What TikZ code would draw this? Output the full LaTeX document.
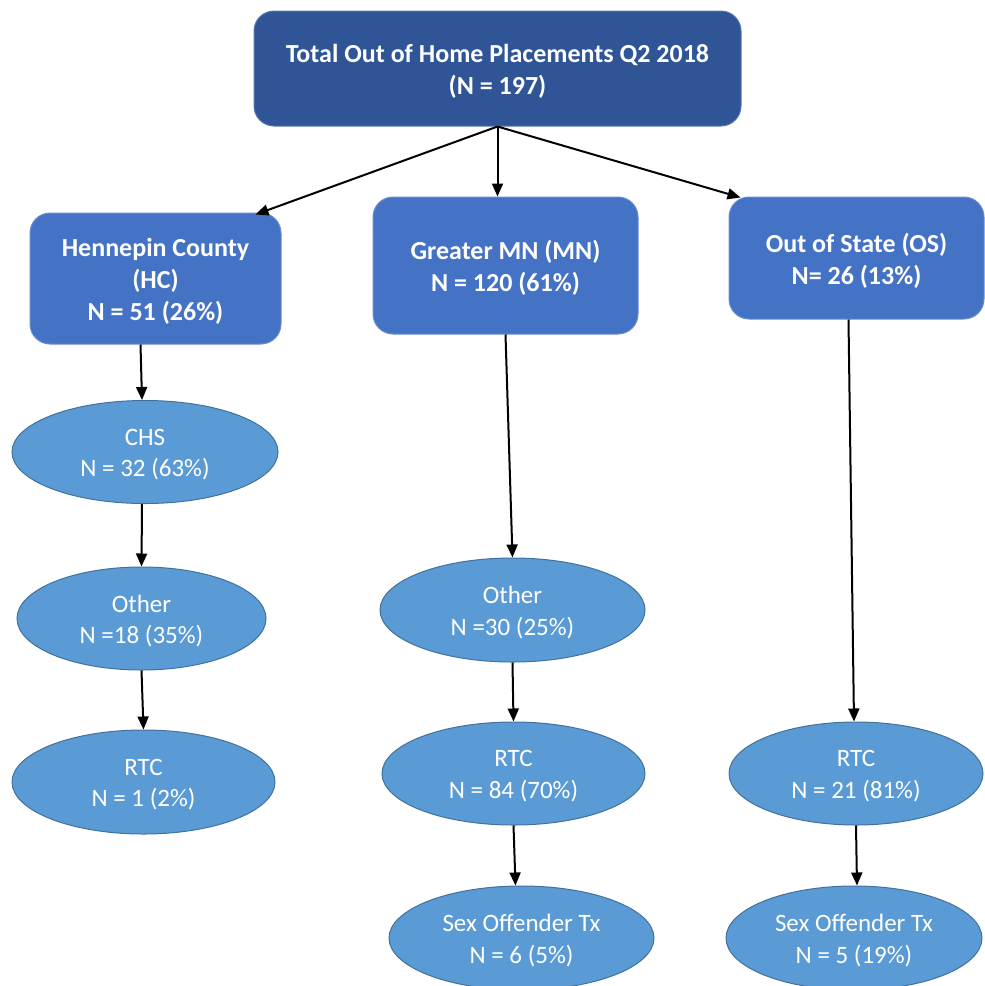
\documentclass[tikz,border=0pt]{standalone}
\usepackage{fontspec}
\setmainfont{Carlito}
\usetikzlibrary{shapes.geometric,arrows.meta}
\definecolor{topblue}{HTML}{2F5597}
\definecolor{boxblue}{HTML}{4472C4}
\definecolor{ellblue}{HTML}{5B9BD5}
\definecolor{elledge}{HTML}{41719C}
\tikzset{
  topbox/.style={draw=topblue!80!white, line width=1pt, fill=topblue, rounded corners=20pt, inner sep=0pt},
  regbox/.style={draw=boxblue!80!white, line width=1pt, fill=boxblue, rounded corners=20pt, inner sep=0pt},
  oval/.style={ellipse, draw=elledge, line width=1pt, fill=ellblue, inner sep=0pt},
  boldtxt/.style={text=white, align=center, inner sep=0pt, yshift=-2.5pt, font=\fontsize{26}{32}\selectfont\bfseries},
  plaintxt/.style={text=white, align=center, inner sep=0pt, yshift=-2.5pt, font=\fontsize{25}{31.5}\selectfont},
  conn/.style={line width=2pt, -{Triangle[length=13pt,width=11pt]}}
}
\begin{document}
\begin{tikzpicture}[x=1pt,y=-1pt]
\useasboundingbox (0,0) rectangle (985,986);
\node[topbox, minimum width=487pt, minimum height=115pt, label={[name=top-t, boldtxt]center:{Total Out of Home Placements Q2 2018\\(N = 197)}}] (top) at (497.5,68.5) {};
\node[regbox, minimum width=251pt, minimum height=131pt, label={[name=hc-t, boldtxt]center:{Hennepin County\\(HC)\\N = 51 (26\%)}}] (hc) at (155.5,278.5) {};
\node[regbox, minimum width=265pt, minimum height=137pt, label={[name=mn-t, boldtxt]center:{Greater MN (MN)\\N = 120 (61\%)}}] (mn) at (505.5,265.5) {};
\node[regbox, minimum width=255pt, minimum height=122pt, label={[name=os-t, boldtxt]center:{Out of State (OS)\\N= 26 (13\%)}}] (os) at (856.5,258) {};

\node[oval, minimum width=266pt, minimum height=103pt, label={[name=chs-t, plaintxt]center:{CHS\\N = 32 (63\%)}}] (chs) at (145,452) {};
\node[oval, minimum width=249pt, minimum height=103pt, label={[name=ohc-t, plaintxt]center:{Other\\N =18 (35\%)}}] (ohc) at (141.5,618.5) {};
\node[oval, minimum width=263pt, minimum height=104pt, label={[name=rhc-t, plaintxt]center:{RTC\\N = 1 (2\%)}}] (rhc) at (143.5,782) {};

\node[oval, minimum width=265pt, minimum height=104pt, label={[name=omn-t, plaintxt]center:{Other\\N =30 (25\%)}}] (omn) at (512.5,610) {};
\node[oval, minimum width=263pt, minimum height=103pt, label={[name=rmn-t, plaintxt]center:{RTC\\N = 84 (70\%)}}] (rmn) at (513.5,773.5) {};
\node[oval, minimum width=265pt, minimum height=104pt, label={[name=smn-t, plaintxt]center:{Sex Offender Tx\\N = 6 (5\%)}}] (smn) at (521.5,938) {};

\node[oval, minimum width=254pt, minimum height=103pt, label={[name=ros-t, plaintxt]center:{RTC\\N = 21 (81\%)}}] (ros) at (856,773.5) {};
\node[oval, minimum width=256pt, minimum height=104pt, label={[name=sos-t, plaintxt]center:{Sex Offender Tx\\N = 5 (19\%)}}] (sos) at (854,938) {};

\draw[conn] (top.south) -- ([xshift=-26pt,yshift=-2pt]hc.north east);
\draw[conn] (top.south) -- (top.south |- mn.north);
\draw[conn] (top.south) -- ([xshift=12pt,yshift=-1pt]os.north west);

\draw[conn] ([xshift=-15pt]hc.south) -- ([xshift=-3pt]chs.north);
\draw[conn] ([xshift=-3pt]chs.south) -- (ohc.north);
\draw[conn] (ohc.south) -- (rhc.north);

\draw[conn] (mn.south) -- (omn.north);
\draw[conn] (omn.south) -- (rmn.north);
\draw[conn] (rmn.south) -- ([xshift=-6pt]smn.north);

\draw[conn] ([xshift=-8pt]os.south) -- ([xshift=-2pt]ros.north);
\draw[conn] (ros.south) -- ([xshift=3pt]sos.north);
\end{tikzpicture}
\end{document}
